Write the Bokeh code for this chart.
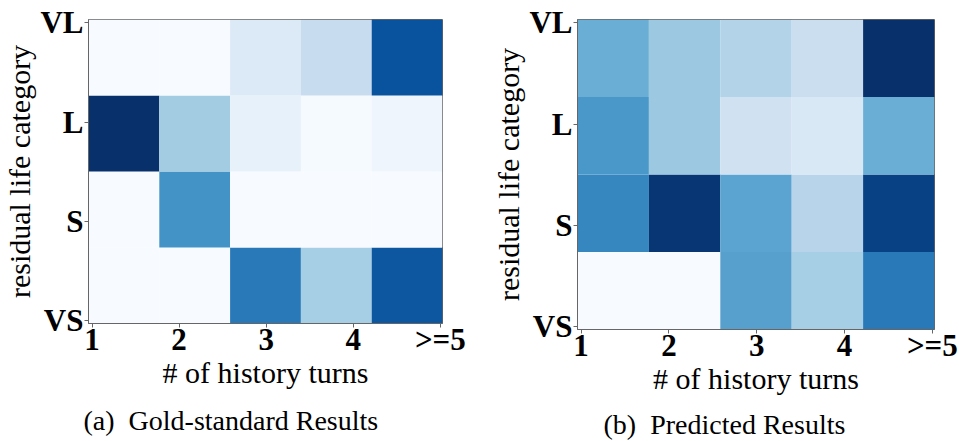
from bokeh.plotting import figure
from bokeh.layouts import row
from bokeh.models import ColumnDataSource, LinearColorMapper, FixedTicker, Title
from bokeh.palettes import Blues256
from bokeh.embed import file_html
from bokeh.resources import INLINE

x_labels = ["1", "2", "3", "4", ">=5"]
y_labels = ["VS", "S", "L", "VL"]
x_tick_pos = [0.05, 1.28, 2.51, 3.74, 4.97]
y_tick_pos = [0.04, 1.34, 2.65, 3.96]

# rows from bottom (VS) to top (VL), columns 1..>=5
gold = [
    [0.00, 0.00, 0.72, 0.35, 0.85],   # VS
    [0.00, 0.62, 0.00, 0.00, 0.00],   # S
    [1.00, 0.36, 0.08, 0.01, 0.05],   # L
    [0.00, 0.00, 0.14, 0.24, 0.87],   # VL
]
pred = [
    [0.00, 0.00, 0.56, 0.35, 0.72],   # VS
    [0.67, 0.98, 0.55, 0.30, 0.93],   # S
    [0.60, 0.38, 0.20, 0.15, 0.50],   # L
    [0.50, 0.38, 0.31, 0.23, 1.00],   # VL
]

SERIF = "Liberation Serif"
palette = list(Blues256)[::-1]


def make(mat, caption, width, fl, ft, fw, fh, ylab_standoff, cap_offset, cap_standoff):
    xs, ys, vs = [], [], []
    for r, rowv in enumerate(mat):
        for c, v in enumerate(rowv):
            xs.append(c + 0.5)
            ys.append(r + 0.5)
            vs.append(v)
    src = ColumnDataSource(dict(x=xs, y=ys, v=vs))
    mapper = LinearColorMapper(palette=palette, low=0, high=1)
    p = figure(width=width, height=441, x_range=(0, 5), y_range=(0, 4),
               frame_width=fw, frame_height=fh,
               min_border_left=fl, min_border_top=ft, min_border_right=width - fl - fw,
               min_border_bottom=441 - ft - fh,
               output_backend="svg", toolbar_location=None, tools="")
    p.rect(x="x", y="y", width=1, height=1, source=src,
           fill_color={"field": "v", "transform": mapper}, line_color=None)
    p.grid.visible = False
    p.outline_line_color = "#666666"
    p.outline_line_width = 1
    for ax in (p.xaxis[0], p.yaxis[0]):
        ax.major_label_text_font = SERIF
        ax.major_label_text_font_style = "bold"
        ax.major_label_text_font_size = "31px"
        ax.major_label_text_color = "black"
        ax.axis_label_text_font = SERIF
        ax.axis_label_text_font_style = "normal"
        ax.axis_label_text_font_size = "30px"
        ax.axis_label_text_color = "black"
        ax.minor_tick_line_color = None
        ax.major_tick_in = 0
        ax.major_tick_out = 4
        ax.major_tick_line_color = "#666666"
        ax.axis_line_color = "#666666"
    p.xaxis.ticker = FixedTicker(ticks=x_tick_pos)
    p.xaxis.major_label_overrides = {t: l for t, l in zip(x_tick_pos, x_labels)}
    p.yaxis.ticker = FixedTicker(ticks=y_tick_pos)
    p.yaxis.major_label_overrides = {t: l for t, l in zip(y_tick_pos, y_labels)}
    p.xaxis.axis_label = "# of history turns"
    p.yaxis.axis_label = "residual life category"
    p.xaxis.major_label_standoff = -6
    p.yaxis.major_label_standoff = 1
    p.xaxis.axis_label_standoff = -4
    p.yaxis.axis_label_standoff = ylab_standoff
    p.add_layout(Title(text=caption, align="left", text_font=SERIF,
                       text_font_style="normal", text_font_size="28px",
                       text_color="black", offset=cap_offset, standoff=cap_standoff), "below")
    return p


p1 = make(gold, "(a)\u00a0 Gold-standard Results", 480, 88, 19, 354, 304, 1, -5, 22)
p2 = make(pred, "(b)\u00a0 Predicted Results", 479, 97, 15, 357, 310, 1, 26, 19)
layout = row(p1, p2)
open("out.html", "w").write(file_html(layout, INLINE))
